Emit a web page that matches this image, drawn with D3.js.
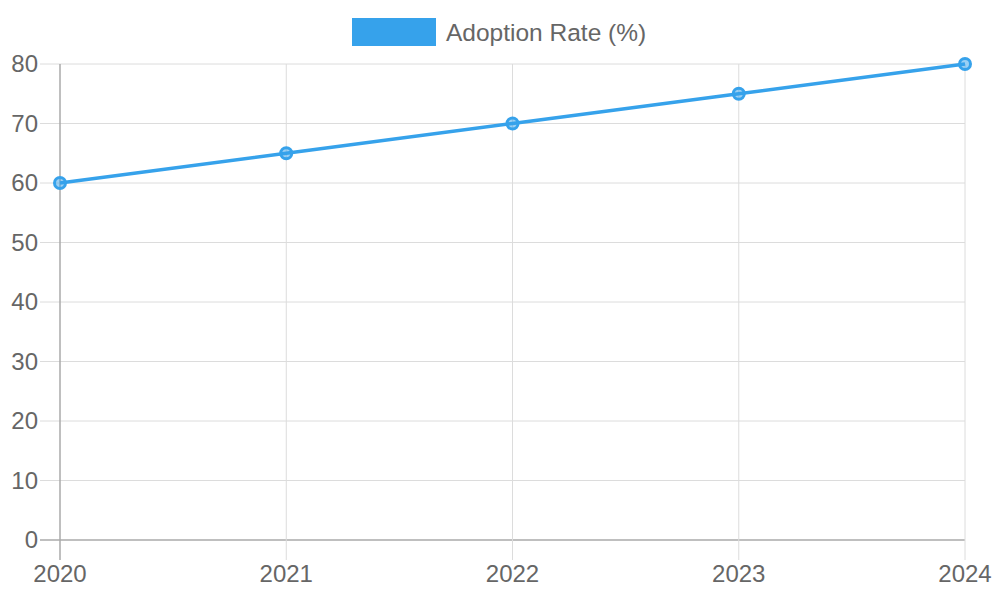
<!DOCTYPE html>
<html>
<head>
<meta charset="utf-8">
<script src="https://cdn.jsdelivr.net/npm/d3@7"></script>
<style>
  body { margin: 0; background: #fff; }
  text { font-family: "Liberation Sans", Arial, sans-serif; fill: #666; }
</style>
</head>
<body>
<svg id="chart" width="1000" height="600"></svg>
<script>
const years = ["2020", "2021", "2022", "2023", "2024"]
const adoption = [60, 65, 70, 75, 80]
const yTicks = [0, 10, 20, 30, 40, 50, 60, 70, 80]
const seriesName = "Adoption Rate (%)"
const blue = "#36a2eb"

const svg = d3.select("#chart")
const margin = {left: 60, right: 35, top: 64, bottom: 60}
const w = 1000 - margin.left - margin.right
const h = 600 - margin.top - margin.bottom

const x = d3.scalePoint().domain(years).range([margin.left, margin.left + w])
const y = d3.scaleLinear().domain([0, 80]).range([margin.top + h, margin.top])

// grille
svg.append("g").selectAll("line")
    .data(yTicks).enter().append("line")
    .attr("x1", margin.left - 20).attr("x2", margin.left + w)
    .attr("y1", d => y(d)).attr("y2", d => y(d))
    .attr("stroke", d => d === 0 ? "#aaa" : "#dcdcdc")
    .attr("stroke-width", d => d === 0 ? 1.5 : 1)

svg.append("g").selectAll("line")
    .data(years).enter().append("line")
    .attr("x1", d => x(d)).attr("x2", d => x(d))
    .attr("y1", margin.top).attr("y2", margin.top + h + 20)
    .attr("stroke", (d, i) => i === 0 ? "#aaa" : "#dcdcdc")
    .attr("stroke-width", (d, i) => i === 0 ? 1.5 : 1)

// labels
svg.append("g").selectAll("text")
    .data(yTicks).enter().append("text")
    .attr("x", margin.left - 22)
    .attr("y", d => y(d))
    .attr("dy", "0.35em")
    .attr("text-anchor", "end")
    .style("font-size", "24px")
    .text(d => d)

svg.append("g").selectAll("text")
    .data(years).enter().append("text")
    .attr("x", d => x(d))
    .attr("y", margin.top + h + 34)
    .attr("dy", "0.35em")
    .attr("text-anchor", "middle")
    .style("font-size", "24px")
    .text(d => d)

// ligne
const line = d3.line().x((d, i) => x(years[i])).y(d => y(d))
svg.append("path")
    .datum(adoption)
    .attr("d", line)
    .attr("fill", "none")
    .attr("stroke", blue)
    .attr("stroke-width", 3.5)

svg.append("g").selectAll("circle")
    .data(adoption).enter().append("circle")
    .attr("cx", (d, i) => x(years[i]))
    .attr("cy", d => y(d))
    .attr("r", 5.5)
    .attr("fill", "rgba(54,162,235,0.5)")
    .attr("stroke", blue)
    .attr("stroke-width", 3)

// légende
svg.append("rect")
    .attr("x", 352).attr("y", 18)
    .attr("width", 84).attr("height", 28)
    .attr("fill", blue)
svg.append("text")
    .attr("x", 446).attr("y", 32)
    .attr("dy", "0.35em")
    .style("font-size", "24.5px")
    .text(seriesName)
</script>
</body>
</html>
